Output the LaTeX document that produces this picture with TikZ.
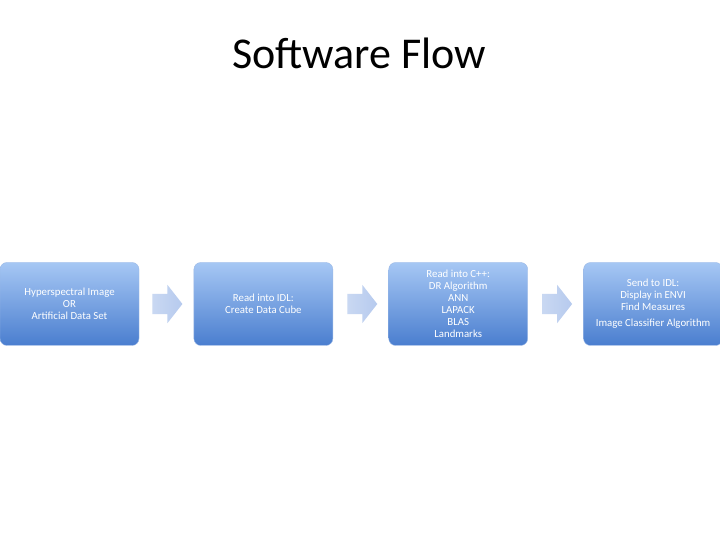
\documentclass[tikz,border=0pt]{standalone}
\usepackage{fontspec}
\setmainfont{Carlito}
\usepackage{tikz}
\usetikzlibrary{positioning,shapes.arrows}
\definecolor{sfTop}{HTML}{A6C7F4}
\definecolor{sfBot}{HTML}{4A7ECF}
\definecolor{sfEdge}{HTML}{5A8AD6}
\definecolor{sfArrL}{HTML}{C9D8F2}
\definecolor{sfArrR}{HTML}{B6CAEE}
\tikzset{
  stage/.style={rounded corners=7pt,top color=sfTop,bottom color=sfBot,draw=sfEdge!60,
                line width=0.4pt,minimum width=139pt,minimum height=83pt,inner sep=2pt,
                align=center,text=white,font=\fontsize{10.8}{12}\selectfont},
  flowarr/.style={single arrow,left color=sfArrL,right color=sfArrR,draw=none,
                  minimum height=30pt,inner sep=10pt,single arrow head extend=9pt,
                  single arrow tip angle=104},
}

\begin{document}
\begin{tikzpicture}[x=1pt,y=1pt]
  \useasboundingbox (0,0) rectangle (720,540);
  \fill[white] (0,0) rectangle (720,540);

  % title
  \node[font=\fontsize{44}{48}\selectfont] (title) at (359,487) {Software Flow};

  % ---------- stages ----------
  \node[stage] (src) at (69.5,236) {Hyperspectral Image\\OR\\Artificial Data Set};
  \node[flowarr,right=13pt of src] (a1) {};
  \node[stage,right=11pt of a1] (idl) {Read into IDL:\\Create Data Cube};
  \node[flowarr,right=14pt of idl] (a2) {};
  \node[stage,right=11pt of a2] (cpp) {Read into C++:\\DR Algorithm\\ANN\\LAPACK\\BLAS\\Landmarks};
  \node[flowarr,right=14pt of cpp] (a3) {};
  \node[stage,right=11pt of a3] (env) {Send to IDL:\\Display in ENVI\\Find Measures\\[4pt]Image Classifier Algorithm};
\end{tikzpicture}
\end{document}
